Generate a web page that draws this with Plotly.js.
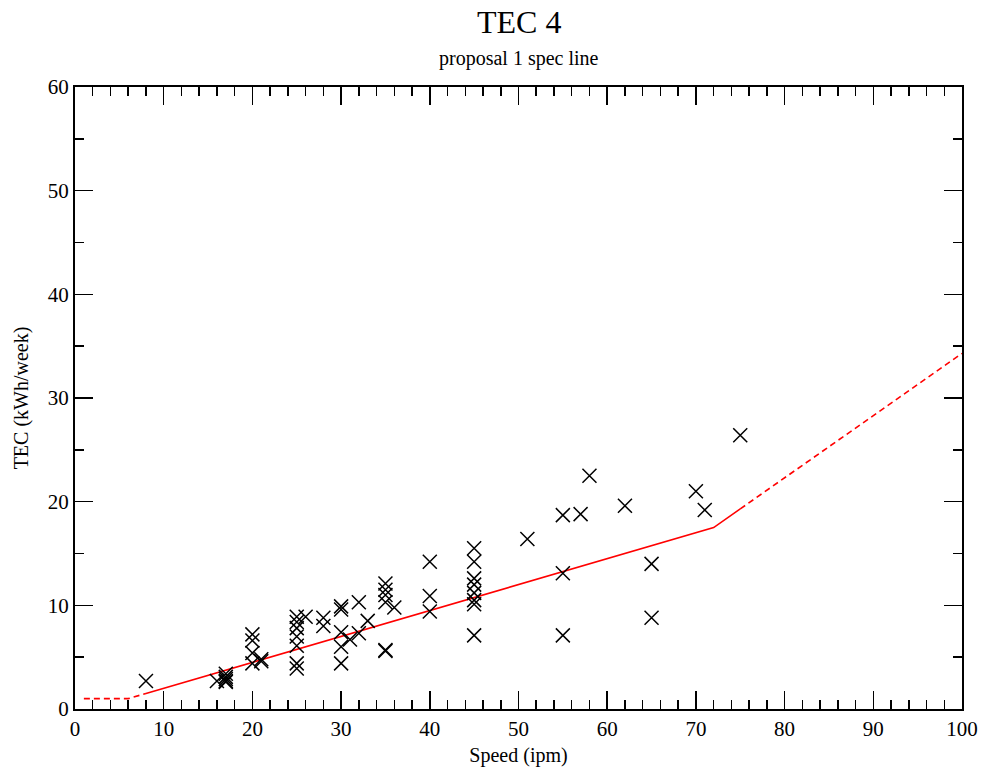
<!DOCTYPE html>
<html>
<head>
<meta charset="utf-8">
<script src="https://cdn.plot.ly/plotly-3.0.1.min.js"></script>
<style>html,body{margin:0;padding:0;background:#fff;}#chart{width:987px;height:773px;}</style>
</head>
<body>
<div id="chart"></div>
<script>
// Measured products: speed (ipm) and TEC (kWh/week)
const speed = [8, 16, 17, 17, 17, 17, 17,
  20, 20, 20, 20, 21, 21,
  25, 25, 25, 25, 25, 25, 25, 26,
  28, 28, 30, 30, 30, 30, 30, 31, 32, 32, 33,
  35, 35, 35, 35, 36, 35, 35,
  40, 40, 40,
  45, 45, 45, 45, 45, 45, 45, 45,
  51, 55, 55, 55, 57, 58, 62, 65, 65, 70, 71, 75];
const tec = [2.7, 2.7, 3.4, 3.1, 2.9, 2.7, 2.6,
  7.2, 6.6, 5.4, 4.4, 4.8, 4.6,
  8.9, 8.4, 7.8, 7.0, 6.1, 4.4, 3.9, 8.9,
  8.8, 8.0, 9.9, 9.6, 7.4, 6.0, 4.4, 6.7, 10.3, 7.3, 8.5,
  12.1, 11.5, 11.0, 10.3, 9.8, 5.7, 5.6,
  14.2, 10.9, 9.4,
  15.5, 14.2, 12.6, 12.0, 11.2, 10.5, 10.1, 7.1,
  16.4, 18.7, 13.1, 7.1, 18.8, 22.5, 19.6, 14.0, 8.8, 21.0, 19.2, 26.4];

// Proposal 1 spec line (dashed outside the data range)
const specLowX = [1, 6, 8];
const specLowY = [1.0, 1.0, 1.5];
const specMidX = [8, 72, 75];
const specMidY = [1.5, 17.5, 19.3];
const specHighX = [75, 100];
const specHighY = [19.3, 34.3];

const xTickVals = [0, 10, 20, 30, 40, 50, 60, 70, 80, 90, 100];
const yTickVals = [0, 10, 20, 30, 40, 50, 60];

const titleText = 'TEC 4';
const subtitleText = 'proposal 1 spec line';

const FONT = 'Liberation Serif, Times New Roman, serif';
const red = '#ff0000';

const traces = [
  {x: specLowX, y: specLowY, mode: 'lines', line: {color: red, width: 1.6, dash: '6px,4px'}, hoverinfo: 'skip'},
  {x: specMidX, y: specMidY, mode: 'lines', line: {color: red, width: 1.6}, hoverinfo: 'skip'},
  {x: specHighX, y: specHighY, mode: 'lines', line: {color: red, width: 1.6, dash: '6px,4px'}, hoverinfo: 'skip'},
  {x: speed, y: tec, mode: 'markers',
   marker: {symbol: 'x-thin-open', size: 14, color: '#000', line: {color: '#000', width: 1.5}}}
];

const axisCommon = {
  showgrid: false, zeroline: false, showline: true, linecolor: '#000', linewidth: 2,
  mirror: 'allticks', ticks: 'inside', ticklen: 18, tickwidth: 1.5, tickcolor: '#000',
  tickfont: {family: FONT, size: 21, color: '#000'}
};

const layout = {
  width: 987, height: 773,
  margin: {l: 75, r: 25, t: 87, b: 64},
  paper_bgcolor: '#fff', plot_bgcolor: '#fff',
  showlegend: false,
  font: {family: FONT, color: '#000'},
  annotations: [
    {text: titleText, xref: 'paper', yref: 'paper', x: 0.5, y: 1, yshift: 87 - 22, xanchor: 'center', yanchor: 'middle',
     showarrow: false, font: {family: FONT, size: 32, color: '#000'}},
    {text: subtitleText, xref: 'paper', yref: 'paper', x: 0.5, y: 1, yshift: 87 - 58, xanchor: 'center', yanchor: 'middle',
     showarrow: false, font: {family: FONT, size: 20, color: '#000'}}
  ],
  xaxis: Object.assign({}, axisCommon, {
    range: [0, 100], tickvals: xTickVals,
    minor: {dtick: 2, ticks: 'inside', ticklen: 9, tickwidth: 1.5, tickcolor: '#000'},
    title: {text: 'Speed (ipm)', font: {family: FONT, size: 20, color: '#000'}, standoff: 8}
  }),
  yaxis: Object.assign({}, axisCommon, {
    range: [0, 60], tickvals: yTickVals,
    minor: {dtick: 5, ticks: 'inside', ticklen: 9, tickwidth: 1.5, tickcolor: '#000'},
    title: {text: 'TEC (kWh/week)', font: {family: FONT, size: 20, color: '#000'}, standoff: 14}
  })
};

Plotly.newPlot('chart', traces, layout, {displayModeBar: false, staticPlot: true});
</script>
</body>
</html>
